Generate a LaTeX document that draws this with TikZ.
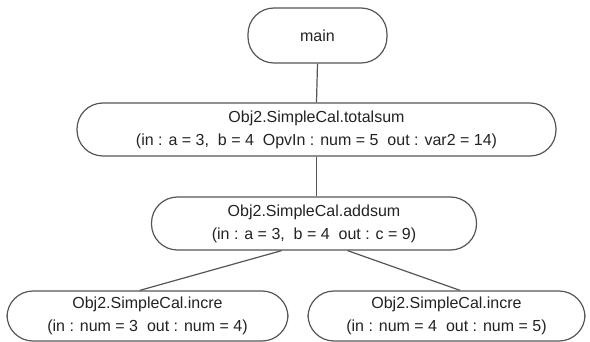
\documentclass[tikz,border=0pt]{standalone}
\usepackage{fontspec}
\setmainfont{Liberation Sans}
\usetikzlibrary{positioning}
\definecolor{linegray}{HTML}{555555}
\definecolor{textgray}{HTML}{222222}
\tikzset{
  callbox/.style={draw=linegray,line width=1.2pt,rounded corners=26pt,
    minimum height=53pt,align=center,inner sep=2pt,text=textgray,
    font=\fontsize{16}{23}\selectfont},
  callline/.style={draw=linegray,line width=1.2pt}
}
\begin{document}
\begin{tikzpicture}[x=1pt,y=1pt]
  \useasboundingbox (0,0) rectangle (590,-342);
  % call tree
  \node[callbox,minimum width=139pt,minimum height=55pt] (main) at (317.5,-35.5) {main};
  \node[callbox,minimum width=479pt] (total) at (316.5,-129.5)
    {Obj2.SimpleCal.totalsum\\(in : a = 3,\ \ b = 4\ \ OpvIn : num = 5\ \ out : var2 = 14)};
  \node[callbox,minimum width=325pt] (add) at (314,-223.5)
    {Obj2.SimpleCal.addsum\\(in : a = 3,\ \ b = 4\ \ out : c = 9)};
  \node[callbox,minimum width=281pt,minimum height=50pt] (incA) at (147.5,-316)
    {Obj2.SimpleCal.incre\\(in : num = 3\ \ out : num = 4)};
  \node[callbox,minimum width=277pt,minimum height=50pt] (incB) at (446.5,-316)
    {Obj2.SimpleCal.incre\\(in : num = 4\ \ out : num = 5)};
  % links
  \draw[callline] (main.south) -- (total.north);
  \draw[callline] (total.south) -- (total.south |- add.north);
  \draw[callline] (add.220) -- (incA.107);
  \draw[callline] (add.321) -- (incB.62);
\end{tikzpicture}
\end{document}
